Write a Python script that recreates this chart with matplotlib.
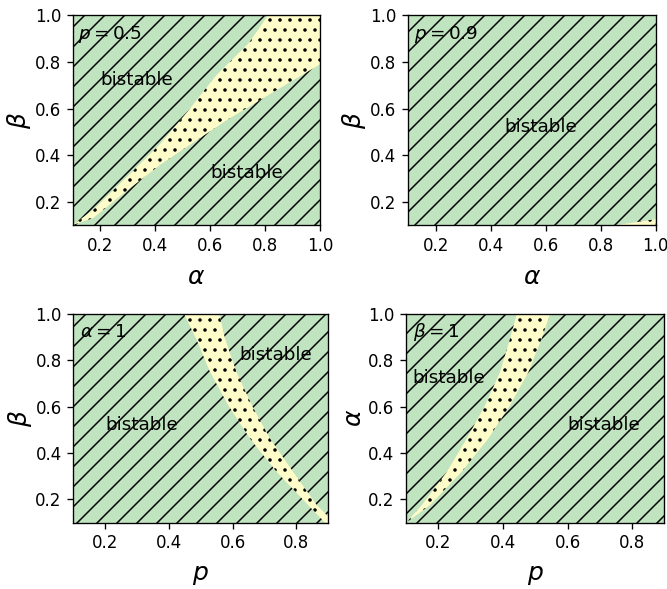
import matplotlib
matplotlib.use('Agg')
import matplotlib.pyplot as plt
import numpy as np

green = '#c0e3c0'
yellow = '#fefcc8'

# panel (a): p = 0.5, alpha vs beta
tl_up_a = [0.10, 0.175, 0.30, 0.42, 0.52, 0.62, 0.74, 0.81]
tl_up_b = [0.10, 0.166, 0.31, 0.45, 0.59, 0.74, 0.88, 1.00]
tl_lo_a = [0.10, 0.175, 0.30, 0.42, 0.54, 0.66, 0.78, 0.90, 1.00]
tl_lo_b = [0.10, 0.13, 0.25, 0.36, 0.455, 0.55, 0.635, 0.72, 0.79]

# panel (b): p = 0.9, tiny sliver in corner
tr_a = [0.86, 1.00, 1.00]
tr_b = [0.10, 0.125, 0.10]

# panel (c): alpha = 1, p vs beta
bl_beta = [1.0, 0.893, 0.749, 0.606, 0.463, 0.319, 0.176, 0.10]
bl_left = [0.447, 0.485, 0.529, 0.586, 0.654, 0.738, 0.837, 0.89]
bl_right = [0.558, 0.576, 0.612, 0.66, 0.717, 0.79, 0.864, 0.92]

# panel (d): beta = 1, p vs alpha
br_alpha = [1.0, 0.893, 0.749, 0.606, 0.463, 0.319, 0.176, 0.10]
br_left = [0.443, 0.422, 0.391, 0.345, 0.288, 0.226, 0.149, 0.10]
br_right = [0.546, 0.52, 0.479, 0.422, 0.355, 0.272, 0.174, 0.10]

xt_top = [0.2, 0.4, 0.6, 0.8, 1.0]
xt_bot = [0.2, 0.4, 0.6, 0.8]
yt = [0.2, 0.4, 0.6, 0.8, 1.0]

DPI = 120
plt.rcParams['hatch.linewidth'] = 0.9
fs_tick = 10
fs_txt = 11
fs_lab = 15

fig = plt.figure(figsize=(667 / DPI, 589 / DPI), dpi=DPI)

ax1 = fig.add_axes([0.109, 0.618, 0.371, 0.356])
ax2 = fig.add_axes([0.612, 0.618, 0.371, 0.356])
ax3 = fig.add_axes([0.110, 0.1126, 0.382, 0.355])
ax4 = fig.add_axes([0.609, 0.1126, 0.387, 0.355])


def background(ax, xmax):
    ax.fill_between([0.1, xmax], [0.1, 0.1], [1.0, 1.0], facecolor=green,
                    edgecolor='black', linewidth=0, hatch='//')
    ax.set_xlim(0.1, xmax)
    ax.set_ylim(0.1, 1.0)


background(ax1, 1.0)
ax1.fill(tl_up_a + [1.0] + tl_lo_a[::-1], tl_up_b + [1.0] + tl_lo_b[::-1],
         facecolor=yellow, edgecolor='black', linewidth=0, hatch='..')
ax1.text(0.12, 0.9, r'$p=0.5$', fontsize=fs_txt)
ax1.text(0.2, 0.7, 'bistable', fontsize=fs_txt)
ax1.text(0.6, 0.3, 'bistable', fontsize=fs_txt)
ax1.set_xticks(xt_top)
ax1.set_xlabel(r'$\alpha$', fontsize=fs_lab, labelpad=6.5)
ax1.set_ylabel(r'$\beta$', fontsize=fs_lab, labelpad=1)

background(ax2, 1.0)
ax2.fill(tr_a, tr_b, facecolor=yellow, edgecolor='black', linewidth=0,
         hatch='..')
ax2.text(0.12, 0.9, r'$p=0.9$', fontsize=fs_txt)
ax2.text(0.45, 0.5, 'bistable', fontsize=fs_txt)
ax2.set_xticks(xt_top)
ax2.set_xlabel(r'$\alpha$', fontsize=fs_lab, labelpad=6.5)
ax2.set_ylabel(r'$\beta$', fontsize=fs_lab, labelpad=1)

background(ax3, 0.9)
ax3.fill_betweenx(bl_beta, bl_left, bl_right, facecolor=yellow,
                  edgecolor='black', linewidth=0, hatch='..')
ax3.text(0.12, 0.9, r'$\alpha=1$', fontsize=fs_txt)
ax3.text(0.2, 0.5, 'bistable', fontsize=fs_txt)
ax3.text(0.62, 0.8, 'bistable', fontsize=fs_txt)
ax3.set_xticks(xt_bot)
ax3.set_xlabel(r'$p$', fontsize=fs_lab, labelpad=6.5)
ax3.set_ylabel(r'$\beta$', fontsize=fs_lab, labelpad=1)

background(ax4, 0.9)
ax4.fill_betweenx(br_alpha, br_left, br_right, facecolor=yellow,
                  edgecolor='black', linewidth=0, hatch='..')
ax4.text(0.12, 0.9, r'$\beta=1$', fontsize=fs_txt)
ax4.text(0.12, 0.7, 'bistable', fontsize=fs_txt)
ax4.text(0.6, 0.5, 'bistable', fontsize=fs_txt)
ax4.set_xticks(xt_bot)
ax4.set_xlabel(r'$p$', fontsize=fs_lab, labelpad=6.5)
ax4.set_ylabel(r'$\alpha$', fontsize=fs_lab, labelpad=1)

for ax in [ax1, ax2, ax3, ax4]:
    ax.set_yticks(yt)
    ax.tick_params(labelsize=fs_tick)

fig.savefig('out.png', dpi=DPI)
